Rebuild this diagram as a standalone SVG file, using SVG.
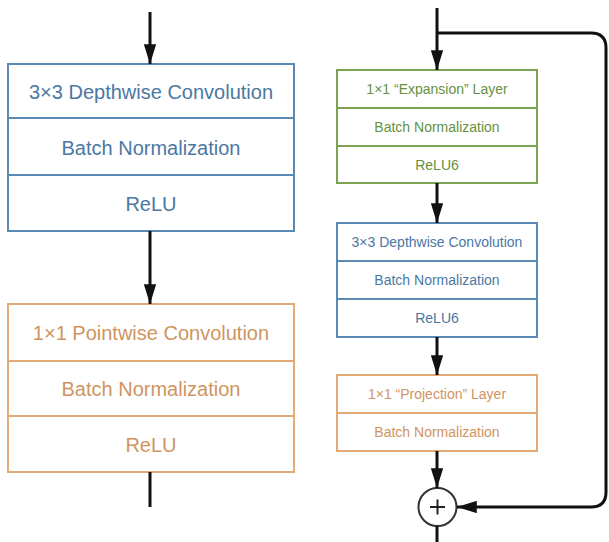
<svg xmlns="http://www.w3.org/2000/svg" width="609" height="542" viewBox="0 0 609 542">
  <style>
    .box { fill: #ffffff; stroke-width: 2; }
    .blue { stroke: #5a8ab4; }
    .orange { stroke: #e3aa78; }
    .green { stroke: #7ba352; }
    .t { font-family: "Liberation Sans", Arial, sans-serif; text-anchor: middle; }
    .big { font-size: 20px; }
    .small { font-size: 14px; }
    .tb { fill: #4a78a3; }
    .to { fill: #cf9461; }
    .tg { fill: #66913e; }
    .wire { fill: none; stroke: #111111; stroke-width: 3; }
  </style>
  <defs>
    <marker id="head" viewBox="0 0 16 10" refX="16" refY="5" markerWidth="6.6" markerHeight="4.125" markerUnits="strokeWidth" orient="auto">
      <path d="M0,0 L16,5 L0,10 Z" fill="#111111"/>
    </marker>
  </defs>
  <rect width="609" height="542" fill="#ffffff"/>

  <!-- MobileNet v1 block -->
  <g id="dw-block-v1">
    <rect class="box blue" x="8" y="64" width="286" height="167"/>
    <line class="blue" stroke-width="2" x1="8" y1="118" x2="294" y2="118"/>
    <line class="blue" stroke-width="2" x1="8" y1="175" x2="294" y2="175"/>
    <text class="t big tb" x="151" y="99">3×3 Depthwise Convolution</text>
    <text class="t big tb" x="151" y="155">Batch Normalization</text>
    <text class="t big tb" x="151" y="211">ReLU</text>
  </g>
  <g id="pw-block-v1">
    <rect class="box orange" x="8" y="304" width="286" height="168"/>
    <line class="orange" stroke-width="2" x1="8" y1="361" x2="294" y2="361"/>
    <line class="orange" stroke-width="2" x1="8" y1="416" x2="294" y2="416"/>
    <text class="t big to" x="151" y="340">1×1 Pointwise Convolution</text>
    <text class="t big to" x="151" y="396">Batch Normalization</text>
    <text class="t big to" x="151" y="452">ReLU</text>
  </g>

  <!-- MobileNet v2 inverted residual block -->
  <g id="expansion">
    <rect class="box green" x="337" y="70" width="200" height="113"/>
    <line class="green" stroke-width="2" x1="337" y1="108" x2="537" y2="108"/>
    <line class="green" stroke-width="2" x1="337" y1="146" x2="537" y2="146"/>
    <text class="t small tg" x="437" y="94">1×1 “Expansion” Layer</text>
    <text class="t small tg" x="437" y="132">Batch Normalization</text>
    <text class="t small tg" x="437" y="170">ReLU6</text>
  </g>
  <g id="depthwise">
    <rect class="box blue" x="337" y="223" width="200" height="114"/>
    <line class="blue" stroke-width="2" x1="337" y1="261" x2="537" y2="261"/>
    <line class="blue" stroke-width="2" x1="337" y1="299" x2="537" y2="299"/>
    <text class="t small tb" x="437" y="247">3×3 Depthwise Convolution</text>
    <text class="t small tb" x="437" y="285">Batch Normalization</text>
    <text class="t small tb" x="437" y="323">ReLU6</text>
  </g>
  <g id="projection">
    <rect class="box orange" x="337" y="375" width="200" height="76"/>
    <line class="orange" stroke-width="2" x1="337" y1="413" x2="537" y2="413"/>
    <text class="t small to" x="437" y="399">1×1 “Projection” Layer</text>
    <text class="t small to" x="437" y="437">Batch Normalization</text>
  </g>
  <g id="add">
    <circle cx="437.5" cy="507" r="19" fill="#ffffff" stroke="#333333" stroke-width="2"/>
    <line x1="430" y1="507" x2="445" y2="507" stroke="#222222" stroke-width="2"/>
    <line x1="437.5" y1="499.5" x2="437.5" y2="514.5" stroke="#222222" stroke-width="2"/>
  </g>

  <!-- connectors -->
  <g id="connectors">
    <line class="wire" x1="150" y1="12" x2="150" y2="64" marker-end="url(#head)"/>
    <line class="wire" x1="150" y1="231" x2="150" y2="304" marker-end="url(#head)"/>
    <line class="wire" x1="150" y1="472" x2="150" y2="507"/>

    <line class="wire" x1="437" y1="8" x2="437" y2="70" marker-end="url(#head)"/>
    <path class="wire" d="M437,33 H591 Q606,33 606,48 V492 Q606,507 591,507 H457" marker-end="url(#head)"/>
    <line class="wire" x1="437" y1="183" x2="437" y2="223" marker-end="url(#head)"/>
    <line class="wire" x1="437" y1="337" x2="437" y2="375" marker-end="url(#head)"/>
    <line class="wire" x1="437" y1="451" x2="437" y2="488" marker-end="url(#head)"/>
    <line class="wire" x1="437" y1="526" x2="437" y2="542"/>
  </g>
</svg>
